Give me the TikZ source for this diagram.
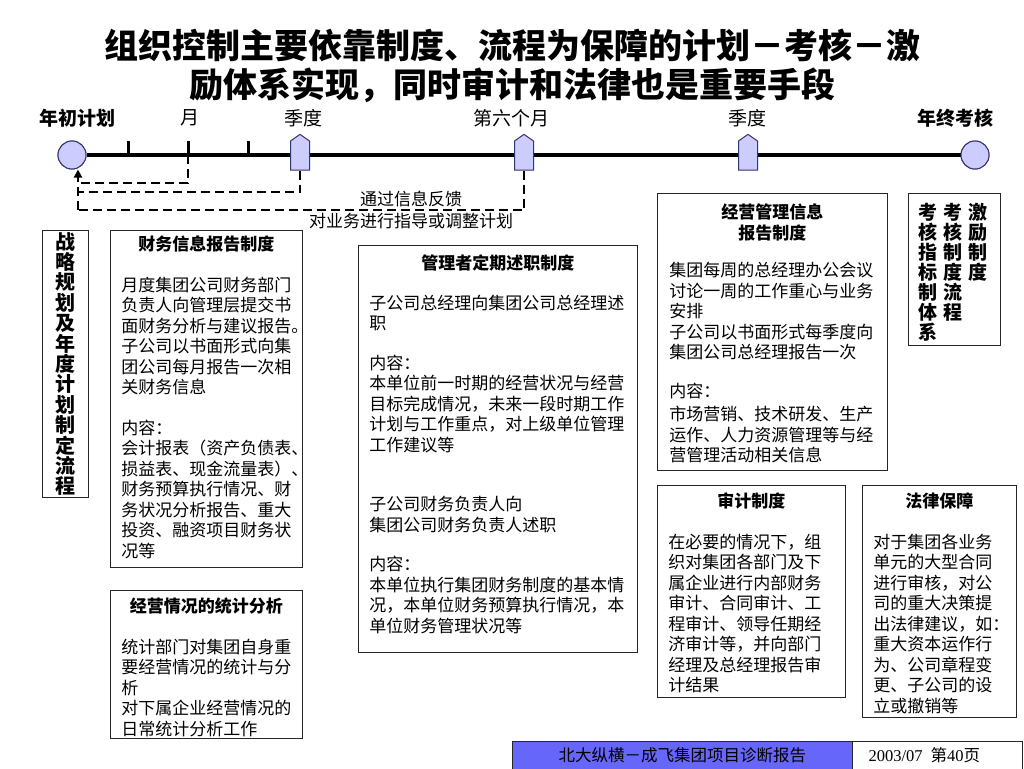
\documentclass[tikz,border=0pt]{standalone}
\usepackage{fontspec}
\setmainfont{Noto Sans CJK SC}
\newfontfamily\latinfont{Liberation Serif}
\usetikzlibrary{shapes.symbols,arrows.meta,positioning}
\definecolor{markfill}{RGB}{204,204,255}
\definecolor{markline}{RGB}{51,51,110}
\definecolor{footblue}{RGB}{102,102,250}

\begin{document}
\begin{tikzpicture}[x=1pt, y=-1pt, font=\fontsize{17}{20.5}\selectfont]
\tikzset{
  frame/.style={rectangle, draw=black!85, line width=0.9pt, anchor=north west, inner sep=0pt},
  body/.style={anchor=north, inner sep=0pt, align=left},
  lbl/.style={font=\fontsize{19}{22}\selectfont},
  column/.style={anchor=north, inner sep=0pt, align=center, font=\fontsize{19}{20}\selectfont\bfseries},
  endpt/.style={circle, draw=markline, fill=markfill, line width=1pt, minimum size=28pt, inner sep=0pt},
  qmark/.style={signal, signal to=north, signal pointer angle=110, draw=markline, fill=markfill, line width=1pt, minimum width=19pt, minimum height=29pt, inner sep=0pt},
  fb/.style={line width=2.5pt, dash pattern=on 9pt off 5pt},
}
\useasboundingbox (0,0) rectangle (1024,768);

% title
\node[align=center, font=\fontsize{34}{39}\selectfont\bfseries] (title) at (512,66)
  {组织控制主要依靠制度、流程为保障的计划－考核－激\\励体系实现，同时审计和法律也是重要手段};

% timeline
\node[lbl, font=\fontsize{19}{22}\selectfont\bfseries] (l0) at (77,118) {年初计划};
\node[lbl] (l1) at (190,118) {月};
\node[lbl] (l2) at (303,118) {季度};
\node[lbl] (l3) at (511,118) {第六个月};
\node[lbl] (l4) at (747,118) {季度};
\node[lbl, font=\fontsize{19}{22}\selectfont\bfseries] (l5) at (955,118) {年终考核};

\node[endpt] (start) at (72,155) {};
\node[endpt] (finish) at (975,155) {};
\draw[line width=4pt] (start) -- (finish);
\foreach \x in {128,188,248}
  \draw[line width=3pt] (\x,141) -- (\x,155);
\node[qmark] (q1) at (300,155.5) {};
\node[qmark] (q2) at (524,155.5) {};
\node[qmark] (q3) at (748,155.5) {};
\node[endpt] at (start) {};
\node[endpt] at (finish) {};

% feedback
\coordinate (mon) at (188,155);
\coordinate (c1) at (78,183);
\coordinate (c2) at (78,192);
\coordinate (c3) at (78,210);
\draw[fb] (mon) |- (c1);
\draw[fb] (q1.south) |- (c2);
\draw[fb] (q2.south) |- (c3);
\draw[fb, -{Triangle[length=8pt, width=8pt]}] (c3) -- ([xshift=6pt]start.south);
\node (fbtop) at (411,199) {通过信息反馈};
\node[below=3pt of fbtop, inner sep=0pt] (fbbot) {对业务进行指导或调整计划};

% left column
\node[frame, minimum width=46pt, minimum height=267pt] (plan) at (42,230) {};
\node[align=center, inner sep=0pt, font=\fontsize{20}{20.4}\selectfont\bfseries] (plan-t) at (plan.center)
  {战\\略\\规\\划\\及\\年\\度\\计\\划\\制\\定\\流\\程};

\node[frame, minimum width=192pt, minimum height=337pt] (fin) at (110,230) {};
\node[body, text width=170pt] (fin-t) at ([yshift=-6pt]fin.north)
  {{\centering\bfseries 财务信息报告制度\par}\vspace{20pt}
   月度集团公司财务部门\\负责人向管理层提交书\\面财务分析与建议报告。\\子公司以书面形式向集\\团公司每月报告一次相\\关财务信息\par\vspace{20pt}
   内容：\\会计报表（资产负债表、\\损益表、现金流量表）、\\财务预算执行情况、财\\务状况分析报告、重大\\投资、融资项目财务状\\况等};

\node[frame, minimum width=192pt, minimum height=148pt] (stat) at (110,590) {};
\node[body, text width=170pt] (stat-t) at ([yshift=-8pt]stat.north)
  {{\centering\bfseries 经营情况的统计分析\par}\vspace{20pt}
   统计部门对集团自身重\\要经营情况的统计与分\\析\\对下属企业经营情况的\\日常统计分析工作};

% middle column
\node[frame, minimum width=279pt, minimum height=407pt] (duty) at (358,245) {};
\node[body, text width=257pt] (duty-t) at ([yshift=-10pt]duty.north)
  {{\centering\bfseries 管理者定期述职制度\par}\vspace{19pt}
   子公司总经理向集团公司总经理述\\职\par\vspace{19pt}
   内容：\\本单位前一时期的经营状况与经营\\目标完成情况，未来一段时期工作\\计划与工作重点，对上级单位管理\\工作建议等\par\vspace{39pt}
   子公司财务负责人向\\集团公司财务负责人述职\par\vspace{19pt}
   内容：\\本单位执行集团财务制度的基本情\\况，本单位财务预算执行情况，本\\单位财务管理状况等};

% right column
\node[frame, minimum width=230pt, minimum height=277pt] (oper) at (657,193) {};
\node[body, text width=206pt] (oper-t) at ([yshift=-11pt]oper.north)
  {{\centering\bfseries 经营管理信息\\报告制度\par}\vspace{17pt}
   集团每周的总经理办公会议\\讨论一周的工作重心与业务\\安排\\子公司以书面形式每季度向\\集团公司总经理报告一次\par\vspace{18pt}
   内容：\par\vspace{3pt}
   市场营销、技术研发、生产\\运作、人力资源管理等与经\\营管理活动相关信息};

\node[frame, minimum width=92pt, minimum height=152pt] (exam) at (908,193) {};
\node[column] (exam-b) at ([xshift=-1pt, yshift=-10pt]exam.north) {考\\核\\制\\度\\流\\程};
\node[column] (exam-a) at ([xshift=-25pt]exam-b.north) {考\\核\\指\\标\\制\\体\\系};
\node[column] (exam-c) at ([xshift=25pt]exam-b.north) {激\\励\\制\\度};

\node[frame, minimum width=188pt, minimum height=212pt] (audit) at (657,485) {};
\node[body, text width=166pt] (audit-t) at ([yshift=-8pt]audit.north)
  {{\centering\bfseries 审计制度\par}\vspace{20pt}
   在必要的情况下，组\\织对集团各部门及下\\属企业进行内部财务\\审计、合同审计、工\\程审计、领导任期经\\济审计等，并向部门\\经理及总经理报告审\\计结果};

\node[frame, minimum width=154pt, minimum height=232pt] (law) at (862,485) {};
\node[body, text width=132pt] (law-t) at ([yshift=-8pt]law.north)
  {{\centering\bfseries 法律保障\par}\vspace{20pt}
   对于集团各业务\\单元的大型合同\\进行审核，对公\\司的重大决策提\\出法律建议，如：\\重大资本运作行\\为、公司章程变\\更、子公司的设\\立或撤销等};

% footer
\node[frame, fill=footblue, minimum width=340pt, minimum height=28pt, font=\fontsize{16.5}{20}\selectfont] (foot) at (512,741) {北大纵横－成飞集团项目诊断报告};
\node[frame, fill=white, minimum width=170pt, minimum height=28pt] (page) at (852,741) {};
\node[anchor=west, font=\fontsize{16.5}{20}\selectfont] (page-t) at ([xshift=13pt]page.west) {{\latinfont 2003/07}\hspace{8pt}第{\latinfont 40}页};
\end{tikzpicture}
\end{document}
